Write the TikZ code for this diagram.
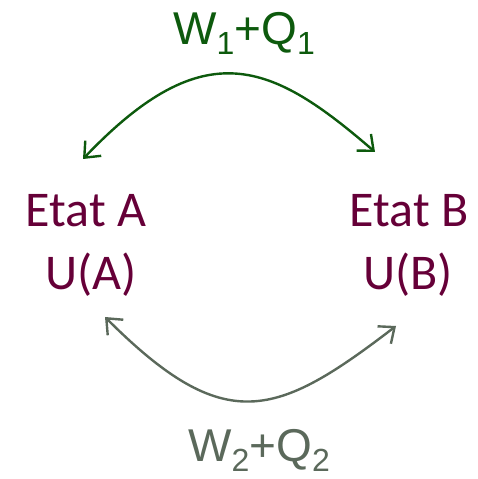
\documentclass[tikz,border=0pt]{standalone}
\usepackage{fontspec}
\setmainfont{Carlito}
\newfontfamily\arialfont{Liberation Sans}
\usetikzlibrary{arrows.meta}
\definecolor{statecol}{HTML}{660038}
\definecolor{topcol}{HTML}{0D5A0D}
\definecolor{botcol}{HTML}{5B695B}
\tikzset{
  statetext/.style={inner sep=0pt, anchor=base, text=statecol, font=\fontsize{50}{50}\selectfont},
  worktext/.style={inner sep=0pt, anchor=base west, font=\arialfont\fontsize{46}{46}\selectfont},
  arc/.style={line width=2.4pt, {Straight Barb[length=13pt,width=22pt]}-{Straight Barb[length=13pt,width=22pt]}},
}
\newcommand{\lowsub}[1]{\raisebox{-10pt}{\fontsize{32}{32}\selectfont #1}}
\begin{document}
\begin{tikzpicture}[x=1pt,y=1pt]
\useasboundingbox (0,0) rectangle (477,479);
\node[statetext] (EA) at (86,252) {Etat A};
\node[statetext] (UA) at (91,189) {U(A)};
\node[statetext] (EB) at (409,252) {Etat B};
\node[statetext] (UB) at (408,189) {U(B)};
\node[worktext, text=topcol] (W1) at (173,434) {W\lowsub{1}+Q\lowsub{1}};
\node[worktext, text=botcol] (W2) at (188,17) {W\lowsub{2}+Q\lowsub{2}};
\coordinate (t1) at (83,320);
\coordinate (t2) at (375,327);
\coordinate (b1) at (105,162);
\coordinate (b2) at (396,153);
\draw[arc, topcol] (t1) .. controls (205,448) and (272,416) .. (t2);
\draw[arc, botcol] (b1) .. controls (225,42) and (276,61) .. (b2);
\end{tikzpicture}
\end{document}
